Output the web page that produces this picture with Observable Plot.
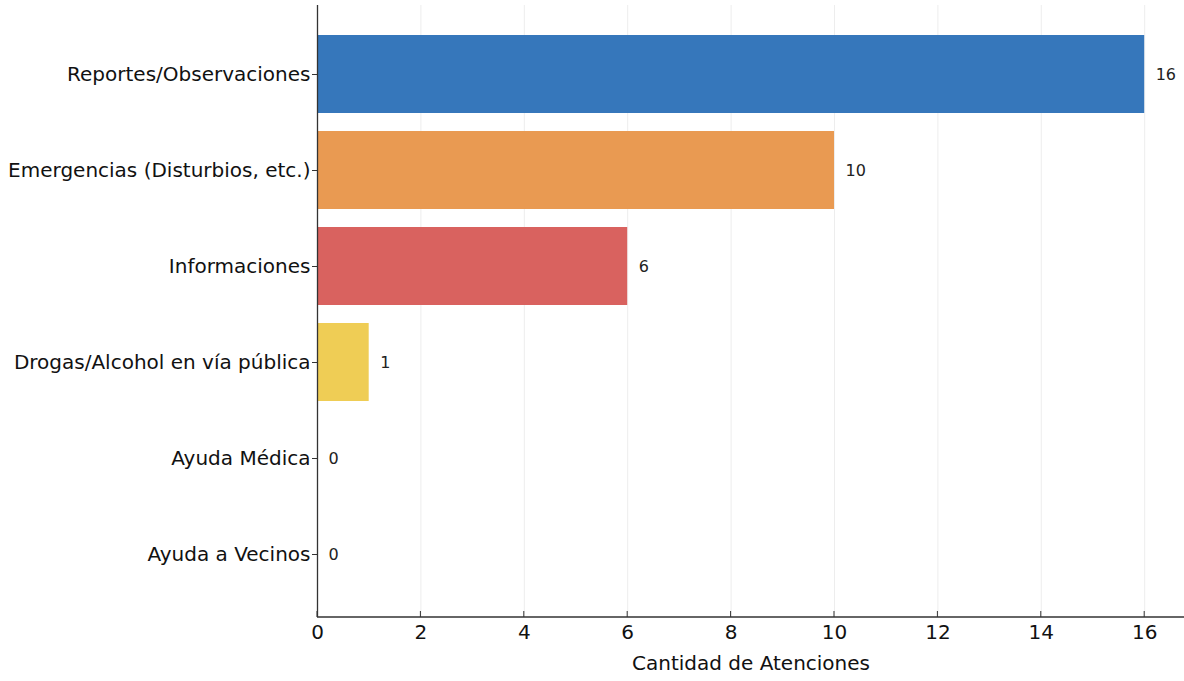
<!DOCTYPE html>
<html>
<head>
<meta charset="utf-8">
<script src="https://cdn.jsdelivr.net/npm/d3@7"></script>
<script src="https://cdn.jsdelivr.net/npm/@observablehq/plot@0.6"></script>
<style>
  html, body { margin: 0; padding: 0; background: #fff; }
  #chart svg { display: block; }
</style>
</head>
<body>
<div id="chart"></div>
<script>
const categories = [
  "Reportes/Observaciones",
  "Emergencias (Disturbios, etc.)",
  "Informaciones",
  "Drogas/Alcohol en vía pública",
  "Ayuda Médica",
  "Ayuda a Vecinos"
];
const values = [16, 10, 6, 1, 0, 0];
const colors = ["#3677bb", "#e99a52", "#d9625f", "#efcd55", "#8a8a8a", "#8a8a8a"];
const xTicks = [0, 2, 4, 6, 8, 10, 12, 14, 16];

const data = categories.map((c, i) => ({ cat: c, val: values[i], color: colors[i] }));

const font = "DejaVu Sans, sans-serif";
const W = 1184, H = 681, ML = 317, MB = 64, MT = 5;

const chart = Plot.plot({
  width: W,
  height: H,
  marginLeft: ML,
  marginRight: 0,
  marginTop: MT,
  marginBottom: MB,
  style: { fontFamily: font, fontSize: "20px", color: "#111", background: "#fff" },
  x: { domain: [0, 16.77] },
  y: { domain: categories, paddingInner: 0.1875, paddingOuter: 0.28125, align: 0.556 },
  marks: [
    Plot.gridX(xTicks, { stroke: "#ededed", strokeOpacity: 1, strokeWidth: 1 }),
    Plot.barX(data, { y: "cat", x: "val", fill: "color" }),
    Plot.text(data, {
      y: "cat", x: "val", text: d => String(d.val),
      textAnchor: "start", dx: 11, fontSize: 16, fill: "#222"
    }),
    Plot.axisX({
      ticks: xTicks, tickSize: 0, tickPadding: 7, tickFormat: d => String(d),
      fontSize: 20, label: null
    }),
    Plot.axisX({
      ticks: [], label: "Cantidad de Atenciones", labelAnchor: "center",
      labelArrow: "none", labelOffset: 52, fontSize: 20
    }),
    Plot.axisY({ tickSize: 5, tickPadding: 2, fontSize: 20, label: null, stroke: "#333" }),
    Plot.ruleX([0], { stroke: "#333", strokeWidth: 1.3 })
  ]
});

// bottom spine and inward x ticks, positioned through Plot's own x scale
const xs = chart.scale("x");
const svg = d3.select(chart);
const yBase = H - MB;
svg.append("line")
  .attr("x1", ML).attr("x2", W)
  .attr("y1", yBase).attr("y2", yBase)
  .attr("stroke", "#333").attr("stroke-width", 1.3);
svg.append("g").selectAll("line").data(xTicks).join("line")
  .attr("x1", d => xs.apply(d)).attr("x2", d => xs.apply(d))
  .attr("y1", yBase).attr("y2", yBase - 6)
  .attr("stroke", "#333").attr("stroke-width", 1);

document.getElementById("chart").appendChild(chart);
</script>
</body>
</html>
